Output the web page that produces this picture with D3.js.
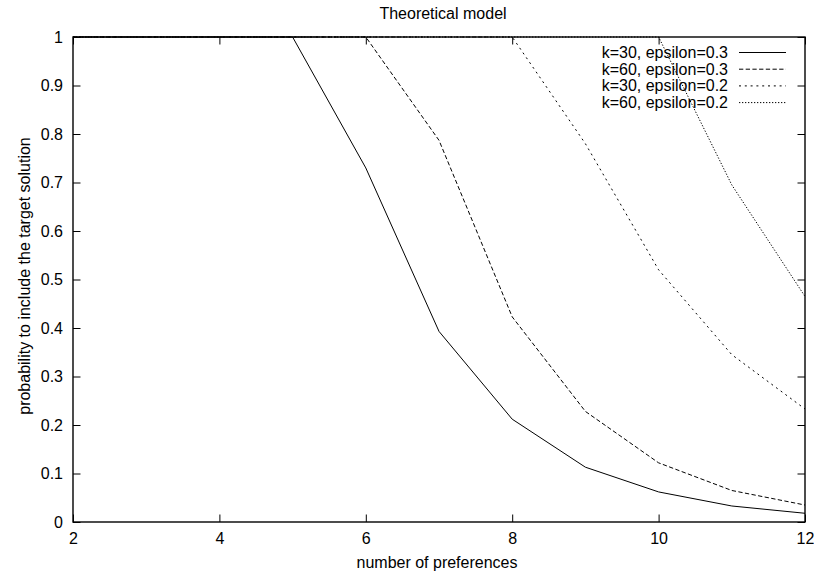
<!DOCTYPE html>
<html>
<head>
<meta charset="utf-8">
<script src="https://cdn.jsdelivr.net/npm/d3@7"></script>
<style>
body { margin: 0; background: #fff; }
text { font-family: "Liberation Sans", Arial, sans-serif; font-size: 16px; fill: #000; }
</style>
</head>
<body>
<script>
// values
const xs = [2, 3, 4, 5, 6, 7, 8, 9, 10, 11, 12];
const k30e03 = [1, 1, 1, 1, 0.73, 0.393, 0.212, 0.113, 0.062, 0.033, 0.018];
const k60e03 = [1, 1, 1, 1, 1, 0.787, 0.423, 0.228, 0.122, 0.065, 0.035];
const k30e02 = [1, 1, 1, 1, 1, 1, 1, 0.78, 0.52, 0.345, 0.233];
const k60e02 = [1, 1, 1, 1, 1, 1, 1, 1, 1, 0.695, 0.465];
const seriesNames = ['k=30, epsilon=0.3', 'k=60, epsilon=0.3', 'k=30, epsilon=0.2', 'k=60, epsilon=0.2'];
const xTicks = [2, 4, 6, 8, 10, 12];
const yTicks = [0, 0.1, 0.2, 0.3, 0.4, 0.5, 0.6, 0.7, 0.8, 0.9, 1];

const series = [k30e03, k60e03, k30e02, k60e02];
const dashes = [null, '4.3,2.4', '2,3.8', '1.3,1.7'];

const w = 814, h = 577;
const mLeft = 73, mRight = 805, mTop = 37, mBottom = 522;

const svg = d3.select('body').append('svg')
    .attr('width', w)
    .attr('height', h);

const x = d3.scaleLinear().domain([2, 12]).range([mLeft, mRight]);
const y = d3.scaleLinear().domain([0, 1]).range([mBottom, mTop]);

// gnuplot style: ticks on all four sides, pointing in
const tl = 7.5;
svg.append('g')
    .attr('transform', 'translate(0,' + mBottom + ')')
    .call(d3.axisBottom(x).tickValues(xTicks).tickSizeInner(-tl).tickSizeOuter(0).tickPadding(11).tickFormat(d3.format('d')));
svg.append('g')
    .attr('transform', 'translate(0,' + mTop + ')')
    .call(d3.axisTop(x).tickValues(xTicks).tickSizeInner(-tl).tickSizeOuter(0).tickFormat(''));
svg.append('g')
    .attr('transform', 'translate(' + mLeft + ',0)')
    .call(d3.axisLeft(y).tickValues(yTicks).tickSizeInner(-tl).tickSizeOuter(0).tickPadding(10).tickFormat(d3.format('~g')));
svg.append('g')
    .attr('transform', 'translate(' + mRight + ',0)')
    .call(d3.axisRight(y).tickValues(yTicks).tickSizeInner(-tl).tickSizeOuter(0).tickFormat(''));

svg.selectAll('.domain').remove();
svg.selectAll('.tick line').attr('stroke', '#000');
svg.selectAll('.tick text')
    .style('font-family', '"Liberation Sans", Arial, sans-serif')
    .style('font-size', '16px')
    .attr('fill', '#000');

svg.append('rect')
    .attr('x', mLeft).attr('y', mTop)
    .attr('width', mRight - mLeft).attr('height', mBottom - mTop)
    .attr('fill', 'none').attr('stroke', '#000').attr('stroke-width', 1.4);

const line = d3.line()
    .x((d, i) => x(xs[i]))
    .y(d => y(d));

series.forEach((s, i) => {
    svg.append('path')
        .datum(s)
        .attr('d', line)
        .attr('fill', 'none')
        .attr('stroke', '#000')
        .attr('stroke-width', 1)
        .attr('stroke-dasharray', dashes[i]);
});

// legend
const leg = svg.append('g');
seriesNames.forEach((n, i) => {
    const ly = 52.5 + i * 16.7;
    leg.append('text')
        .attr('x', 728).attr('y', ly + 5.5)
        .attr('text-anchor', 'end')
        .text(n);
    leg.append('line')
        .attr('x1', 739).attr('x2', 786)
        .attr('y1', ly).attr('y2', ly)
        .attr('stroke', '#000')
        .attr('stroke-dasharray', dashes[i]);
});

svg.append('text')
    .attr('x', 443).attr('y', 19)
    .attr('text-anchor', 'middle')
    .text('Theoretical model');
svg.append('text')
    .attr('x', 437).attr('y', 568)
    .attr('text-anchor', 'middle')
    .text('number of preferences');
svg.append('text')
    .attr('transform', 'translate(29.5,276) rotate(-90)')
    .attr('text-anchor', 'middle')
    .text('probability to include the target solution');
</script>
</body>
</html>
